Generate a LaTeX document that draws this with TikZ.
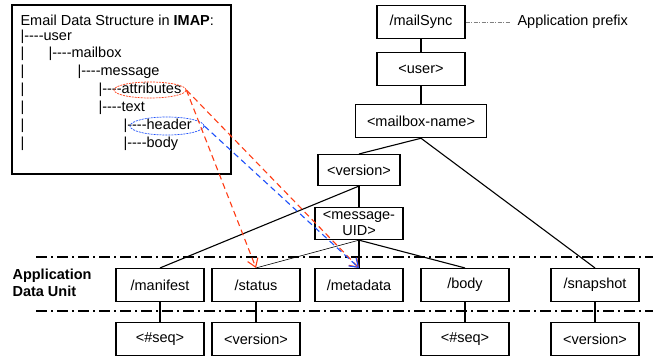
\documentclass[tikz,border=0pt]{standalone}
\usepackage{fontspec}
\setmainfont{Liberation Sans}
\usetikzlibrary{positioning,shapes.geometric,arrows.meta}
\definecolor{arrred}{RGB}{255,60,20}
\definecolor{arrblue}{RGB}{30,80,250}
\newcommand\branch{|-{}-{}-{}-}
\begin{document}
\begin{tikzpicture}[x=1pt, y=-1pt, line width=1.1pt,
    font=\fontsize{14.5}{16}\selectfont,
    main/.style = {draw, inner sep=0pt, minimum width=88pt, minimum height=33pt, fill=white},
    txt/.style = {anchor=west, inner sep=0pt},
    unitline/.style = {line width=1.1pt, dash pattern=on 11pt off 4pt on 2pt off 4pt},
    fieldmark/.style = {draw, ellipse, line width=0.7pt, dash pattern=on 2pt off 1pt, inner sep=0pt},
    imapline/.style = {-{Straight Barb[length=8pt,width=11pt]}, line width=1.1pt, dash pattern=on 6pt off 4pt}]
    \fill[white] (0,0) rectangle (653,356);
    \useasboundingbox (0,0) rectangle (653,356);

    % IMAP structure
    \draw (12,5) rectangle (231,174);
    \node[txt] (title) at (20,20) {Email Data Structure in \textbf{IMAP}:};
    \node[txt] (t1) at (20,37) {\branch user};
    \node[txt] (t2) at (48,54) {\branch mailbox};
    \node[txt] (t3) at (77,72) {\branch message};
    \node[txt] (t4) at (98,90) {\branch attributes};
    \node[txt] (t5) at (98,108) {\branch text};
    \node[txt] (t6) at (123,126) {\branch header};
    \node[txt] (t7) at (123,144) {\branch body};
    \foreach \y in {54,72,...,144}
        \node[txt] at (20,\y) {|};
    \node[fieldmark, draw=arrred, minimum width=72pt, minimum height=16pt] (attr) at (150,90) {};
    \node[fieldmark, draw=arrblue, minimum width=74pt, minimum height=18pt] (hdr) at (167,126) {};

    % name tree
    \node[main] (ms) at (421,22) {/mailSync};
    \node[main] (usr) [below=13pt of ms] {<user>};
    \node[main, minimum width=131pt] (mbox) [below=18pt of usr] {<mailbox-name>};
    \node[main, minimum width=82pt, minimum height=31pt] (ver) at (359,170) {<version>};
    \node[main, align=center, minimum height=32pt] (uid) [below=21pt of ver] {<message-\\UID>};

    \node[txt] (prefix) at (517,22) {Application prefix};
    \draw[gray, line width=0.6pt, dash pattern=on 4pt off 1.5pt on 1pt off 1.5pt, shorten >=6pt] (ms) -- (prefix);

    % application data units
    \node[txt, font=\bfseries\fontsize{14.5}{17}\selectfont, align=left] (adu) at (12,283) {Application\\Data Unit};
    \coordinate (s1a) at (36,257); \coordinate (s1b) at (653,257);
    \coordinate (s2a) at (36,311); \coordinate (s2b) at (653,311);
    \draw[unitline] (s1a) -- (s1b);
    \draw[unitline] (s2a) -- (s2b);

    \node[main] (man) at (160,285) {/manifest};
    \node[main] (stat) at (256,285) {/status};
    \node[main] (meta) at (359,285) {/metadata};
    \node[main] (bdy) at (465,285) {/body};
    \node[main] (snap) at (595,285) {/snapshot};
    \node[main] (seq1) [below=20pt of man] {<\#seq>};
    \node[main] (ver1) [below=20pt of stat] {<version>};
    \node[main] (seq2) [below=20pt of bdy] {<\#seq>};
    \node[main] (ver2) [below=20pt of snap] {<version>};

    \draw (ms) -- (usr);
    \draw (usr) -- (mbox);
    \draw (mbox.south) -- (ver.north);
    \draw (mbox.south) -- (snap.north);
    \draw (ver) -- (uid);
    \draw (ver.south) -- (man.north);
    \draw[line width=0.6pt] (uid.south) -- (stat.north);
    \draw (uid.south) -- (meta.north);
    \draw (uid.south) -- (bdy.north);
    \draw (man) -- (seq1);
    \draw (stat) -- (ver1);
    \draw (bdy) -- (seq2);
    \draw (snap) -- (ver2);

    % mapping IMAP -> ADU
    \draw[imapline, arrred] (attr.east) -- (stat.north);
    \draw[imapline, arrred] (attr.east) -- (meta.north);
    \draw[imapline, arrblue] (hdr.east) -- (meta.north);
\end{tikzpicture}
\end{document}
